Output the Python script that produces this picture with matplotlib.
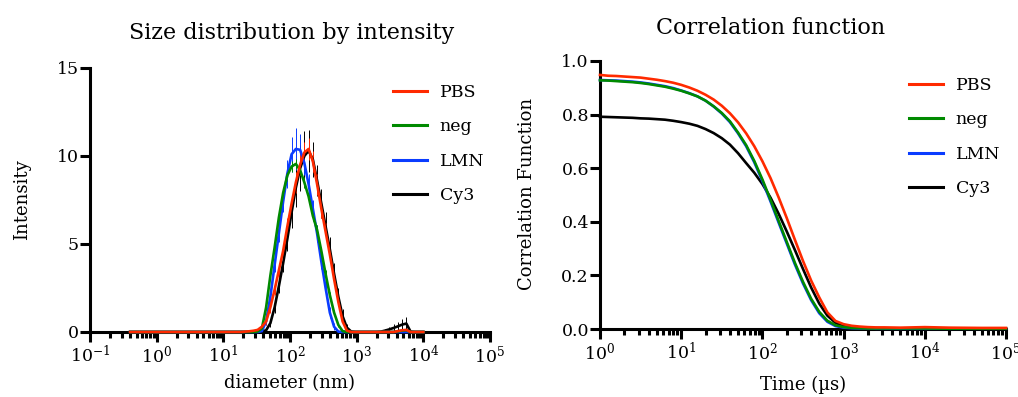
import matplotlib
matplotlib.use("Agg")
import matplotlib.pyplot as plt
from matplotlib.lines import Line2D
from matplotlib.ticker import FormatStrFormatter

plt.rcParams['font.family'] = ['DejaVu Serif']
plt.rcParams['mathtext.fontset'] = 'dejavuserif'

# size bins (nm), Zetasizer grid
diameter = [0.4, 0.4632, 0.5365, 0.6213, 0.7195, 0.8332, 0.9649, 1.117, 1.294, 1.499,
            1.736, 2.01, 2.328, 2.696, 3.122, 3.615, 4.187, 4.849, 5.615, 6.503,
            7.531, 8.721, 10.1, 11.7, 13.54, 15.69, 18.17, 21.04, 24.36, 28.21,
            32.67, 37.84, 43.82, 50.75, 58.77, 68.06, 78.82, 91.28, 105.7, 122.4,
            141.8, 164.2, 190.1, 220.2, 255.0, 295.3, 342.0, 396.1, 458.7, 531.2,
            615.1, 712.4, 825.0, 955.4, 1106, 1281, 1484, 1718, 1990, 2305,
            2669, 3091, 3580, 4145, 4801, 5560, 6439, 7456, 8635, 10000]

pbs_int = [0, 0, 0, 0, 0, 0, 0, 0, 0, 0,
           0, 0, 0, 0, 0, 0, 0, 0, 0, 0,
           0, 0, 0, 0, 0, 0, 0, 0.02, 0.04, 0.07,
           0.12, 0.3, 0.6, 1.4, 2.4, 3.5, 4.6, 6.0, 7.3, 8.5,
           9.5, 10.2, 10.4, 9.7, 8.4, 7.0, 5.7, 4.4, 3.0, 1.7,
           0.6, 0.08, 0, 0, 0, 0, 0, 0, 0, 0,
           0, 0, 0, 0.05, 0.1, 0.12, 0, 0, 0, 0]
pbs_sd = [0, 0, 0, 0, 0, 0, 0, 0, 0, 0,
          0, 0, 0, 0, 0, 0, 0, 0, 0, 0,
          0, 0, 0, 0, 0, 0, 0, 0.02, 0.03, 0.05,
          0.1, 0.15, 0.2, 0.3, 0.3, 0.4, 0.4, 0.5, 0.5, 0.6,
          0.6, 0.6, 0.6, 0.6, 0.6, 0.5, 0.5, 0.4, 0.3, 0.2,
          0.1, 0.05, 0, 0, 0, 0, 0, 0, 0, 0,
          0, 0, 0, 0.03, 0.05, 0.05, 0, 0, 0, 0]

neg_int = [0, 0, 0, 0, 0, 0, 0, 0, 0, 0,
           0, 0, 0, 0, 0, 0, 0, 0, 0, 0,
           0, 0, 0, 0, 0, 0, 0, 0, 0, 0,
           0.03, 0.2, 1.4, 3.2, 4.8, 6.5, 7.9, 8.9, 9.4, 9.55,
           9.2, 8.5, 7.7, 6.6, 5.8, 4.6, 3.3, 2.1, 1.1, 0.4,
           0.05, 0, 0, 0, 0, 0, 0, 0, 0, 0,
           0, 0, 0, 0.03, 0.08, 0.1, 0, 0, 0, 0]
neg_sd = [0, 0, 0, 0, 0, 0, 0, 0, 0, 0,
          0, 0, 0, 0, 0, 0, 0, 0, 0, 0,
          0, 0, 0, 0, 0, 0, 0, 0, 0, 0,
          0, 0.05, 0.15, 0.2, 0.25, 0.3, 0.3, 0.3, 0.3, 0.3,
          0.3, 0.3, 0.3, 0.3, 0.3, 0.25, 0.25, 0.2, 0.15, 0.1,
          0.05, 0, 0, 0, 0, 0, 0, 0, 0, 0,
          0, 0, 0, 0, 0, 0, 0, 0, 0, 0]

lmn_int = [0, 0, 0, 0, 0, 0, 0, 0, 0, 0,
           0, 0, 0, 0, 0, 0, 0, 0, 0, 0,
           0, 0, 0, 0, 0, 0, 0, 0, 0, 0,
           0, 0.05, 0.6, 2.0, 3.8, 5.6, 7.4, 9.0, 10.1, 10.4,
           10.35, 9.6, 8.4, 7.0, 5.6, 4.0, 2.5, 1.1, 0.3, 0.02,
           0, 0, 0, 0, 0, 0, 0, 0, 0, 0,
           0, 0, 0, 0, 0, 0, 0, 0, 0, 0]
lmn_sd = [0, 0, 0, 0, 0, 0, 0, 0, 0, 0,
          0, 0, 0, 0, 0, 0, 0, 0, 0, 0,
          0, 0, 0, 0, 0, 0, 0, 0, 0, 0,
          0, 0.05, 0.2, 0.3, 0.4, 0.5, 0.6, 0.8, 1.0, 1.2,
          0.9, 0.7, 0.6, 0.5, 0.5, 0.4, 0.4, 0.3, 0.2, 0.02,
          0, 0, 0, 0, 0, 0, 0, 0, 0, 0,
          0, 0, 0, 0, 0, 0, 0, 0, 0, 0]

cy3_int = [0, 0, 0, 0, 0, 0, 0, 0, 0, 0,
           0, 0, 0, 0, 0, 0, 0, 0, 0, 0,
           0, 0, 0, 0, 0, 0, 0, 0, 0, 0,
           0, 0.02, 0.1, 0.5, 1.4, 2.6, 3.9, 5.3, 6.8, 8.2,
           9.3, 10.0, 10.3, 9.8, 8.6, 7.3, 6.0, 4.7, 3.3, 2.0,
           0.9, 0.25, 0.03, 0, 0, 0, 0, 0, 0, 0.02,
           0.08, 0.15, 0.23, 0.32, 0.42, 0.48, 0.02, 0, 0, 0]
cy3_sd = [0, 0, 0, 0, 0, 0, 0, 0, 0, 0,
          0, 0, 0, 0, 0, 0, 0, 0, 0, 0,
          0, 0, 0, 0, 0, 0, 0, 0, 0, 0,
          0, 0.02, 0.1, 0.2, 0.3, 0.4, 0.5, 0.7, 0.9, 1.1,
          1.3, 1.4, 1.2, 1.0, 0.9, 0.8, 0.8, 0.7, 0.6, 0.5,
          0.4, 0.2, 0.05, 0, 0, 0, 0, 0, 0, 0.02,
          0.1, 0.15, 0.2, 0.25, 0.3, 0.35, 0.02, 0, 0, 0]

# correlogram
time_us = [1, 1.259, 1.585, 1.995, 2.512, 3.162, 3.981, 5.012, 6.310, 7.943,
           10, 12.59, 15.85, 19.95, 25.12, 31.62, 39.81, 50.12, 63.10, 79.43,
           100, 125.9, 158.5, 199.5, 251.2, 316.2, 398.1, 501.2, 631.0, 794.3,
           1000, 1259, 1585, 1995, 2512, 3162, 5012, 10000, 19950, 50120, 100000]

pbs_g = [0.948, 0.945, 0.944, 0.942, 0.940, 0.938, 0.934, 0.930, 0.925, 0.919,
         0.911, 0.901, 0.889, 0.874, 0.856, 0.833, 0.805, 0.771, 0.730, 0.682,
         0.626, 0.563, 0.491, 0.414, 0.333, 0.254, 0.181, 0.118, 0.062, 0.030,
         0.018, 0.012, 0.009, 0.007, 0.006, 0.006, 0.005, 0.007, 0.005, 0.004, 0.004]
neg_g = [0.928, 0.927, 0.925, 0.923, 0.921, 0.918, 0.914, 0.909, 0.904, 0.897,
         0.889, 0.879, 0.868, 0.852, 0.831, 0.806, 0.775, 0.733, 0.686, 0.627,
         0.558, 0.482, 0.403, 0.325, 0.247, 0.176, 0.113, 0.064, 0.031, 0.014,
         0.007, 0.004, 0.003, 0.002, 0.002, 0.002, 0.002, 0.002, 0.001, 0.001, 0.001]
lmn_g = [0.929, 0.928, 0.927, 0.925, 0.923, 0.920, 0.916, 0.911, 0.906, 0.899,
         0.890, 0.880, 0.868, 0.852, 0.830, 0.804, 0.772, 0.730, 0.682, 0.622,
         0.552, 0.476, 0.397, 0.319, 0.241, 0.170, 0.108, 0.059, 0.027, 0.011,
         0.005, 0.003, 0.002, 0.002, 0.001, 0.001, 0.001, 0.001, 0.001, 0.001, 0.001]
cy3_g = [0.792, 0.791, 0.790, 0.789, 0.788, 0.786, 0.785, 0.783, 0.781, 0.777,
         0.772, 0.766, 0.758, 0.746, 0.731, 0.712, 0.688, 0.656, 0.619, 0.583,
         0.541, 0.490, 0.430, 0.364, 0.295, 0.224, 0.155, 0.095, 0.050, 0.023,
         0.010, 0.006, 0.004, 0.003, 0.003, 0.002, 0.002, 0.002, 0.001, 0.001, 0.001]

labels = ["PBS", "neg", "LMN", "Cy3"]
colors = ["#ff2a00", "#008a00", "#0a3cff", "#000000"]
sizes = [pbs_int, neg_int, lmn_int, cy3_int]
sds = [pbs_sd, neg_sd, lmn_sd, cy3_sd]
corr = [pbs_g, neg_g, lmn_g, cy3_g]

W, H = 1018, 397
fig = plt.figure(figsize=(W / 100, H / 100), dpi=100)
ax1 = fig.add_axes([90 / W, 1 - 332 / H, 400 / W, 264 / H])
ax2 = fig.add_axes([600 / W, 1 - 329 / H, 406 / W, 268 / H])


def style(ax):
    for s in ("top", "right"):
        ax.spines[s].set_visible(False)
    for s in ("left", "bottom"):
        ax.spines[s].set_linewidth(2.2)
    ax.set_xscale("log")
    ax.tick_params(which="major", length=7, width=2.2, labelsize=12.5, pad=2)
    ax.tick_params(which="minor", length=4.5, width=2.2)
    ax.tick_params(axis="y", which="minor", left=False)
    ax.tick_params(axis="y", pad=1)


style(ax1)
style(ax2)

# size distribution, drawn back to front
for i in [3, 2, 1, 0]:
    ax1.errorbar(diameter, sizes[i], yerr=sds[i], fmt="none", ecolor=colors[i],
                 elinewidth=0.7, capsize=0, zorder=3, clip_on=False)
for i in [3, 2, 1, 0]:
    ax1.plot(diameter, sizes[i], color=colors[i], lw=1.9, zorder=4, clip_on=False)
ax1.set_xlim(0.1, 1e5)
ax1.set_ylim(0, 15)
ax1.set_yticks([0, 5, 10, 15])

for i in [3, 2, 1, 0]:
    ax2.plot(time_us, corr[i], color=colors[i], lw=1.9, zorder=4, clip_on=False)
ax2.set_xlim(1, 1e5)
ax2.set_ylim(0, 1.0)
ax2.set_yticks([0, 0.2, 0.4, 0.6, 0.8, 1.0])
ax2.yaxis.set_major_formatter(FormatStrFormatter("%.1f"))

handles = [Line2D([], [], color=c, lw=2.2) for c in colors]
for ax, anchor in ((ax1, (393 / W, 1 - 84 / H)), (ax2, (909 / W, 1 - 77 / H))):
    ax.legend(handles, labels, loc="upper left", bbox_to_anchor=anchor,
              bbox_transform=fig.transFigure, frameon=False, fontsize=12.5,
              handlelength=1.95, handletextpad=0.75, labelspacing=1.0,
              borderpad=0, borderaxespad=0)

fig.text(292 / W, 1 - 33 / H, "Size distribution by intensity", ha="center", va="center", fontsize=16)
fig.text(771 / W, 1 - 28 / H, "Correlation function", ha="center", va="center", fontsize=16)
fig.text(22 / W, 1 - 200 / H, "Intensity", rotation=90, ha="center", va="center", fontsize=13)
fig.text(527 / W, 1 - 194 / H, "Correlation Function", rotation=90, ha="center", va="center", fontsize=13)
fig.text(290 / W, 1 - 383 / H, "diameter (nm)", ha="center", va="center", fontsize=13)
fig.text(803 / W, 1 - 385 / H, "Time (µs)", ha="center", va="center", fontsize=13)

fig.savefig("out.png", dpi=100)
